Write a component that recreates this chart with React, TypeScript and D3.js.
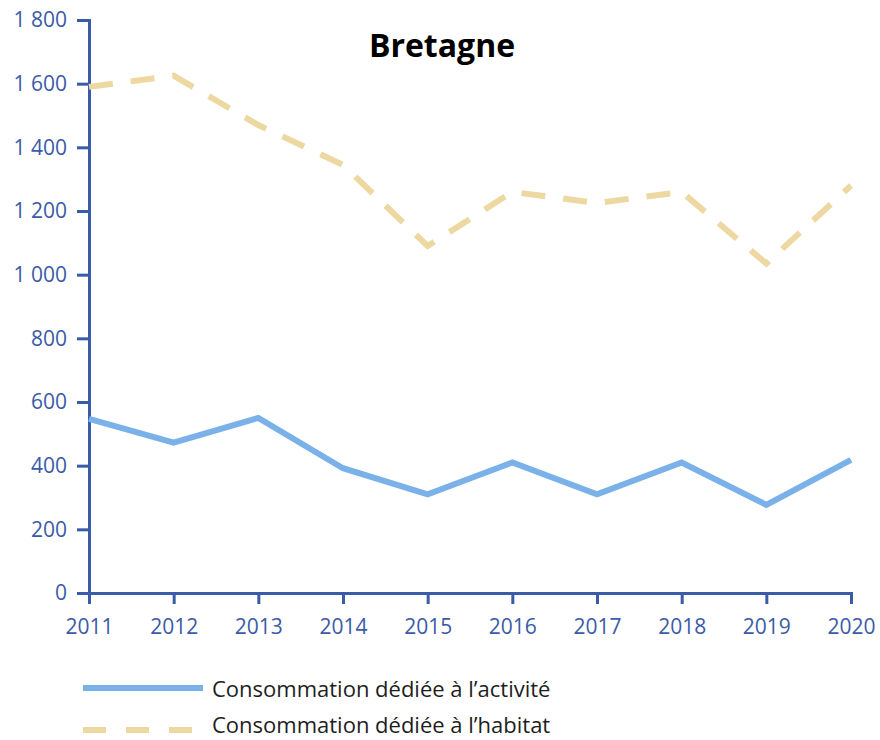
import React, { useEffect, useRef } from "react";
import * as d3 from "d3";

const years = [2011, 2012, 2013, 2014, 2015, 2016, 2017, 2018, 2019, 2020];
const activite = [547, 472, 550, 392, 310, 410, 310, 410, 277, 418];
const habitat = [1590, 1625, 1470, 1345, 1090, 1260, 1225, 1260, 1035, 1280];
const yTicks = [0, 200, 400, 600, 800, 1000, 1200, 1400, 1600, 1800];
const title = "Bretagne";
const legendLabels = ["Consommation dédiée à l’activité", "Consommation dédiée à l’habitat"];

const W = 880;
const H = 740;
const axisColor = "#3A5BA7";
const blue = "#7AB1E8";
const sand = "#EDD8A2";
const font = "'Open Sans', 'Noto Sans', sans-serif";

export default function App() {
  const ref = useRef<SVGSVGElement>(null);

  useEffect(() => {
    const svg = d3.select(ref.current);
    svg.selectAll("*").remove();

    const x = d3.scaleLinear().domain([2011, 2020]).range([89, 851]);
    const y = d3.scaleLinear().domain([0, 1800]).range([593, 20]);
    const fr = d3.formatLocale({ decimal: ",", thousands: "\u00a0", grouping: [3], currency: ["", " €"] });
    const fmt = fr.format(",d");

    // y axis
    const yAxis = svg.append("g")
      .attr("transform", "translate(89,0)")
      .call(d3.axisLeft(y).tickValues(yTicks).tickSize(12).tickPadding(10).tickFormat((d) => fmt(d as number)));
    yAxis.select(".domain").attr("stroke", axisColor).attr("stroke-width", 3);
    yAxis.selectAll(".tick line").attr("stroke", axisColor).attr("stroke-width", 3);
    yAxis.selectAll(".tick text").attr("fill", axisColor).style("font-size", "21px").style("font-family", font);

    // x axis
    const xAxis = svg.append("g")
      .attr("transform", "translate(0,593)")
      .call(d3.axisBottom(x).tickValues(years).tickSize(11).tickPadding(15).tickFormat((d) => String(d)));
    xAxis.select(".domain").attr("stroke", axisColor).attr("stroke-width", 3);
    xAxis.selectAll(".tick line").attr("stroke", axisColor).attr("stroke-width", 3);
    xAxis.selectAll(".tick text").attr("fill", axisColor).style("font-size", "21px").style("font-family", font);

    const line = d3.line<number>()
      .x((d, i) => x(years[i]))
      .y((d) => y(d));

    svg.append("path")
      .datum(habitat)
      .attr("fill", "none")
      .attr("stroke", sand)
      .attr("stroke-width", 6)
      .attr("stroke-dasharray", "24 18")
      .attr("d", line);

    svg.append("path")
      .datum(activite)
      .attr("fill", "none")
      .attr("stroke", blue)
      .attr("stroke-width", 6)
      .attr("d", line);

    svg.append("text")
      .attr("x", 442)
      .attr("y", 57)
      .attr("text-anchor", "middle")
      .style("font-family", font)
      .style("font-weight", "bold")
      .style("font-size", "32px")
      .attr("fill", "#000")
      .text(title);

    // legend
    const legend = svg.append("g");
    const colors = [blue, sand];
    const rows = [688, 730];
    const baselines = [697, 733];
    legendLabels.forEach((label, i) => {
      legend.append("line")
        .attr("x1", 83).attr("x2", 203)
        .attr("y1", rows[i]).attr("y2", rows[i])
        .attr("stroke", colors[i])
        .attr("stroke-width", 6)
        .attr("stroke-dasharray", i === 1 ? "23 20" : null);
      legend.append("text")
        .attr("x", 212)
        .attr("y", baselines[i])
        .style("font-family", font)
        .style("font-size", "22px")
        .attr("fill", "#1E1E1E")
        .text(label);
    });
  }, []);

  return (
    <svg ref={ref} width={W} height={H} style={{ position: "absolute", left: 0, top: 0, background: "#fff" }} />
  );
}
